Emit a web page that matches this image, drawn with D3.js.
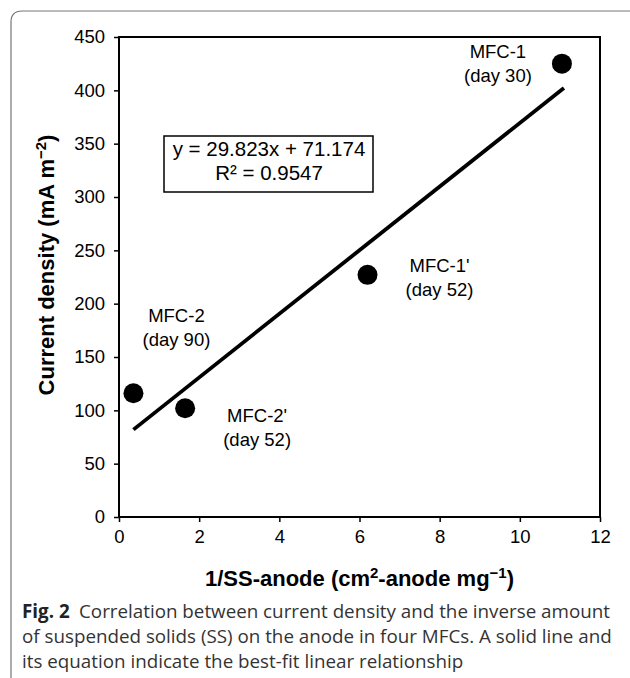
<!DOCTYPE html>
<html>
<head>
<meta charset="utf-8">
<script src="https://cdn.jsdelivr.net/npm/d3@7/dist/d3.min.js"></script>
<style>
  body { margin: 0; background: #fff; }
  svg { display: block; font-family: "Liberation Sans", Arial, sans-serif; }
  .caption { font-family: "Open Sans", "Noto Sans", sans-serif; fill: #333; }
</style>
</head>
<body>
<svg id="chart" width="630" height="678"></svg>
<script>
/* data */
const labels = ['MFC-1', "MFC-1'", 'MFC-2', "MFC-2'"];
const days = ['(day 30)', '(day 52)', '(day 90)', '(day 52)'];
const xValues = [11.05, 6.2, 0.36, 1.65];
const yValues = [425, 227, 116, 102];
const xTicks = [0, 2, 4, 6, 8, 10, 12];
const yTicks = [0, 50, 100, 150, 200, 250, 300, 350, 400, 450];
const slope = 29.823;
const intercept = 71.174;
const rSquared = 0.9547;
const captionLines = [
  'Correlation between current density and the inverse amount',
  'of suspended solids (SS) on the anode in four MFCs. A solid line and',
  'its equation indicate the best-fit linear relationship'
];

/* label placement, pixels from each point */
const labelDx = [-64, 72, 43, 72];
const labelDy = [-13, -10, -78, 7];

const svg = d3.select('#chart');
const plotLeft = 119;
const plotRight = 600;
const plotTop = 37;
const plotBottom = 517;

const x = d3.scaleLinear().domain([0, 12]).range([plotLeft, plotRight]);
const y = d3.scaleLinear().domain([0, 450]).range([plotBottom, plotTop]);

/* frame around the figure */
svg.append('path')
  .attr('d', 'M 11 678 V 22 Q 11 11 22 11 H 630')
  .attr('fill', 'none')
  .attr('stroke', '#777')
  .attr('stroke-width', 1.2);

/* plot box */
svg.append('rect')
  .attr('x', plotLeft)
  .attr('y', plotTop)
  .attr('width', plotRight - plotLeft)
  .attr('height', plotBottom - plotTop)
  .attr('fill', 'none')
  .attr('stroke', '#000')
  .attr('stroke-width', 2);

const xAxis = svg.append('g')
  .attr('transform', `translate(0,${plotBottom})`)
  .call(d3.axisBottom(x).tickValues(xTicks).tickSize(5).tickPadding(8));

const yAxis = svg.append('g')
  .attr('transform', `translate(${plotLeft},0)`)
  .call(d3.axisLeft(y).tickValues(yTicks).tickSize(5).tickPadding(9));

[xAxis, yAxis].forEach((g) => {
  g.select('.domain').remove();
  g.selectAll('line').attr('stroke', '#000').attr('stroke-width', 1.5);
  g.selectAll('text')
    .attr('font-family', '"Liberation Sans", Arial, sans-serif')
    .attr('font-size', 18.5)
    .attr('fill', '#000');
});

/* best-fit line over the data range */
const xExtent = d3.extent(xValues);
svg.append('line')
  .attr('x1', x(xExtent[0]))
  .attr('y1', y(slope * xExtent[0] + intercept))
  .attr('x2', x(xExtent[1] + 0.05))
  .attr('y2', y(slope * (xExtent[1] + 0.05) + intercept))
  .attr('stroke', '#000')
  .attr('stroke-width', 3.8);

/* points */
svg.selectAll('circle.pt')
  .data(xValues)
  .join('circle')
  .attr('class', 'pt')
  .attr('cx', (d) => x(d))
  .attr('cy', (d, i) => y(yValues[i]))
  .attr('r', 10)
  .attr('fill', '#000');

/* point labels */
const lbl = svg.selectAll('text.pt-label')
  .data(labels)
  .join('text')
  .attr('class', 'pt-label')
  .attr('text-anchor', 'middle')
  .attr('font-size', 18.5)
  .attr('fill', '#000');

lbl.append('tspan')
  .attr('x', (d, i) => x(xValues[i]) + labelDx[i])
  .attr('y', (d, i) => y(yValues[i]) + labelDy[i] + 7)
  .text((d) => d);

lbl.append('tspan')
  .attr('x', (d, i) => x(xValues[i]) + labelDx[i])
  .attr('y', (d, i) => y(yValues[i]) + labelDy[i] + 31)
  .text((d, i) => days[i]);

/* equation box */
svg.append('rect')
  .attr('x', 164)
  .attr('y', 136)
  .attr('width', 209)
  .attr('height', 56)
  .attr('fill', '#fff')
  .attr('stroke', '#000')
  .attr('stroke-width', 1.5);

svg.append('text')
  .attr('x', 269)
  .attr('y', 156)
  .attr('text-anchor', 'middle')
  .attr('font-size', 20.5)
  .text(`y = ${slope}x + ${intercept}`);

svg.append('text')
  .attr('x', 269)
  .attr('y', 180)
  .attr('text-anchor', 'middle')
  .attr('font-size', 20.5)
  .text(`R² = ${rSquared}`);

/* axis titles */
const xTitle = svg.append('text')
  .attr('x', (plotLeft + plotRight) / 2)
  .attr('y', 586)
  .attr('text-anchor', 'middle')
  .attr('font-size', 22)
  .attr('font-weight', 'bold');
xTitle.append('tspan').text('1/SS-anode (cm');
xTitle.append('tspan').attr('font-size', 15).attr('dy', -8).text('2');
xTitle.append('tspan').attr('dy', 8).text('-anode mg');
xTitle.append('tspan').attr('font-size', 15).attr('dy', -8).text('−1');
xTitle.append('tspan').attr('dy', 8).text(')');

const yTitle = svg.append('text')
  .attr('transform', `translate(54,${(plotTop + plotBottom) / 2 - 12}) rotate(-90)`)
  .attr('text-anchor', 'middle')
  .attr('font-size', 22)
  .attr('font-weight', 'bold');
yTitle.append('tspan').text('Current density (mA m');
yTitle.append('tspan').attr('font-size', 15).attr('dy', -8).text('−2');
yTitle.append('tspan').attr('dy', 8).text(')');

/* caption */
const cap = svg.append('g').attr('class', 'caption');
captionLines.forEach((line, i) => {
  const t = cap.append('text')
    .attr('x', 22)
    .attr('y', 618 + i * 25)
    .attr('font-size', 18.8);
  if (i === 0) {
    t.append('tspan').attr('font-weight', 'bold').attr('fill', '#222').text('Fig. 2');
    t.append('tspan').text('\u2002' + line);
  } else {
    t.text(line);
  }
});
</script>
</body>
</html>
